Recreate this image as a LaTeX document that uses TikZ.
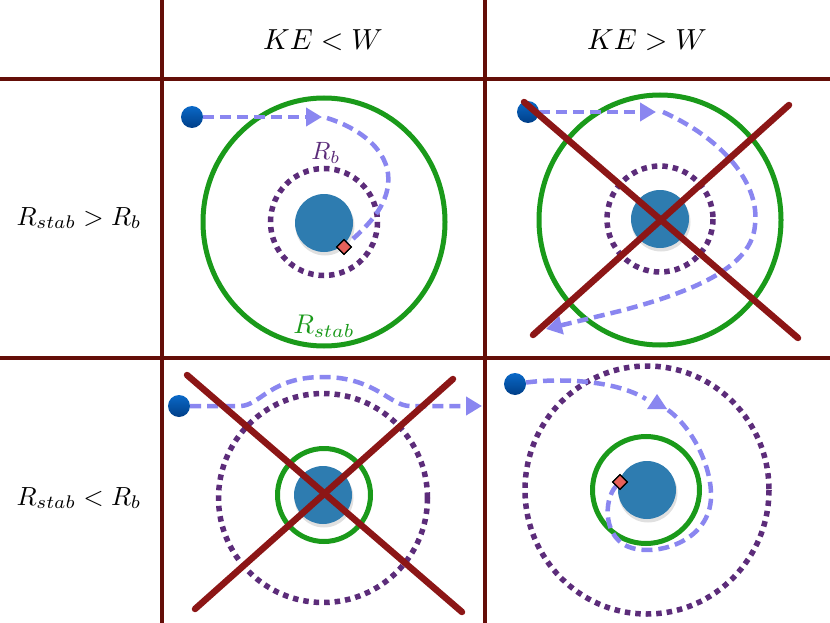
\documentclass[tikz,border=0pt]{standalone}
\usetikzlibrary{arrows.meta,shapes.geometric}
\definecolor{gridc}{RGB}{100,14,8}
\definecolor{orbitg}{RGB}{26,154,26}
\definecolor{bndp}{RGB}{92,44,122}
\definecolor{pathc}{RGB}{138,134,240}
\definecolor{planetc}{RGB}{46,124,176}
\definecolor{crossc}{RGB}{140,22,22}
\definecolor{diamc}{RGB}{232,96,90}
\definecolor{ballt}{RGB}{10,105,200}
\definecolor{ballb}{RGB}{0,62,135}
\tikzset{
  gridline/.style={gridc, line width=4pt},
  stabring/.style={orbitg, line width=5pt},
  bindring/.style={bndp, line width=5.5pt, dash pattern=on 5.5pt off 5pt},
  traj/.style={pathc, line width=4.5pt, dash pattern=on 11pt off 6pt},
  trajarrow/.style={traj, -{Triangle[length=16pt,width=18pt]}},
  planet/.style={circle, fill=planetc, minimum size=58pt, inner sep=0pt},
  pshadow/.style={black, opacity=0.12},
  ball/.style={circle, top color=ballt, bottom color=ballb, minimum size=22pt, inner sep=0pt},
  hit/.style={diamond, fill=diamc, draw=black, line width=1.3pt, minimum size=15pt, inner sep=0pt},
  cross/.style={crossc, line width=6.5pt},
  lbl/.style={inner sep=0pt, anchor=base}
}
\begin{document}
\begin{tikzpicture}[x=1pt,y=-1pt]
\useasboundingbox (0,0) rectangle (830,623);
\fill[white] (0,0) rectangle (830,623);
% grid
\draw[gridline] (162,0) -- (162,623);
\draw[gridline] (485,0) -- (485,623);
\draw[gridline] (0,79) -- (830,79);
\draw[gridline] (0,358) -- (830,358);
% headers
\node[lbl] (c1) at (323,50) {\scalebox{2.9}{$KE < W$}};
\node[lbl] (c2) at (647,50) {\scalebox{2.9}{$KE > W$}};
\node[lbl] (r1) at (79,225) {\scalebox{2.62}{$R_{stab} > R_b$}};
\node[lbl] (r2) at (79,505) {\scalebox{2.62}{$R_{stab} < R_b$}};

% ---- cell 1
\draw[stabring] (324,222) ellipse [x radius=121, y radius=124];
\draw[bindring] (324,222) circle [radius=53.5];
\fill[pshadow] (325,226) circle [radius=29.5];
\node[planet] (p1) at (324,223) {};
\node[lbl, text=bndp] (rb1) at (326,160) {\scalebox{2.5}{$R_b$}};
\node[lbl, text=orbitg] (rs1) at (324,333) {\scalebox{2.7}{$R_{stab}$}};
\node[ball] (b1) at (192,117) {};
\node[hit] (h1) at (344,247) {};
\draw[trajarrow] (b1) -- (322,117);
\draw[traj] (327,118) .. controls (365,130) and (392,155) .. (388,185)
  .. controls (385,210) and (365,228) .. (h1);

% ---- cell 2
\draw[stabring] (660,220) ellipse [x radius=121, y radius=125];
\draw[bindring] (660,219) circle [radius=53];
\fill[pshadow] (661,222) circle [radius=29.5];
\node[planet] (p2) at (660,219) {};
\node[ball] (b2) at (528,112) {};
\draw[trajarrow] (b2) -- (656,112);
\draw[trajarrow] (663,112) .. controls (725,140) and (760,185) .. (755,225)
  .. controls (752,265) and (700,290) .. (620,311) -- (546,329);
\draw[cross, line cap=round] (524,102) -- (798,338);
\draw[cross, line cap=round] (789,105) -- (533,335);

% ---- cell 3
\draw[bindring] (323,498) circle [radius=104.5];
\draw[stabring] (324,495) circle [radius=46.5];
\fill[pshadow] (324,498) circle [radius=29.5];
\node[planet] (p3) at (323,495) {};
\node[ball] (b3) at (179,406) {};
\draw[trajarrow] (b3) -- (240,406) .. controls (260,406) and (270,377) .. (323,377)
  .. controls (375,377) and (390,406) .. (410,406) -- (482,406);
\draw[cross, line cap=round] (187,375) -- (462,612);
\draw[cross, line cap=round] (453,379) -- (195,609);

% ---- cell 4
\draw[bindring] (647,490) ellipse [x radius=122, y radius=124];
\draw[stabring] (646,490) circle [radius=53.5];
\fill[pshadow] (648,493) circle [radius=29.5];
\node[planet] (p4) at (647,490) {};
\node[ball] (b4) at (515,384) {};
\node[hit] (h4) at (620,482) {};
\draw[traj] (b4) .. controls (560,378) and (615,380) .. (646,399);
\fill[pathc] (657,394) -- (667,409) -- (647,409) -- cycle;
\draw[traj] (668,410) .. controls (695,430) and (712,470) .. (711,497)
  .. controls (710,540) and (660,556) .. (632,548)
  .. controls (603,540) and (603,500) .. (h4);
\node[hit] at (h4) {};
\node[hit] at (h1) {};
\end{tikzpicture}
\end{document}
